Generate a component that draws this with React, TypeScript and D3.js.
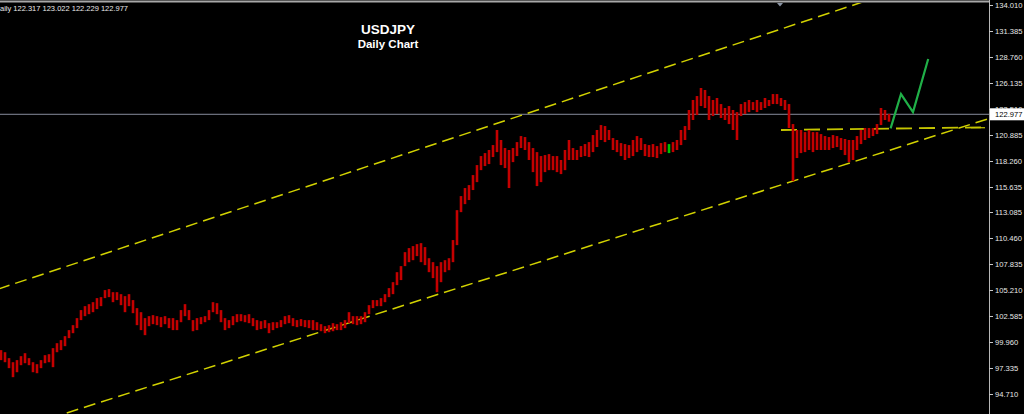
import React from "react";
import * as d3 from "d3";

const W = 1024;
const H = 414;

const highs = [
  99.17, 98.96, 98.36, 97.95, 98.16, 98.56, 98.86, 98.36, 97.95, 97.75,
  98.16, 98.66, 98.76, 99.37, 99.87, 100.18, 100.58, 101.19, 101.69, 102.4,
  103.21, 103.61, 103.81, 104.01, 104.42, 104.52, 105.23, 105.33, 105.02, 105.02,
  104.82, 104.62, 104.82, 104.22, 103.41, 103.0, 102.4, 102.6, 102.7, 102.6,
  102.5, 102.6, 102.4, 102.4, 102.2, 103.21, 103.81, 103.21, 102.2, 102.4,
  102.5, 102.6, 103.21, 104.01, 103.91, 103.21, 102.4, 102.2, 102.6, 102.8,
  102.8, 102.7, 102.8, 102.4, 102.2, 102.09, 102.2, 101.89, 101.99, 101.99,
  102.2, 102.6, 102.7, 102.4, 102.2, 102.3, 102.2, 102.2, 102.2, 101.99,
  101.79, 101.59, 101.69, 101.89, 101.79, 101.99, 102.2, 103.0, 102.6, 102.6,
  102.6, 103.0, 103.71, 104.22, 104.22, 104.42, 104.82, 105.43, 106.03, 107.04,
  107.65, 109.06, 109.47, 109.67, 109.87, 109.97, 109.57, 108.45, 108.05, 107.65,
  108.05, 108.25, 108.45, 110.28, 113.3, 114.72, 115.53, 115.83, 116.84, 117.85,
  118.76, 119.06, 119.37, 119.87, 121.39, 120.38, 119.57, 119.37, 119.57, 120.17,
  120.78, 120.68, 120.17, 119.57, 119.16, 118.76, 118.86, 118.96, 118.76, 118.76,
  118.36, 119.37, 120.38, 119.57, 119.37, 119.77, 119.97, 120.17, 120.88, 121.39,
  121.89, 121.79, 121.39, 120.58, 120.38, 120.07, 119.97, 119.87, 120.38, 120.78,
  120.58, 119.97, 119.87, 119.97, 119.77, 120.07, 120.17, 119.97, 120.17, 120.38,
  121.39, 121.79, 123.41, 124.42, 124.82, 125.63, 125.43, 124.82, 124.42, 124.62,
  124.01, 123.61, 123.81, 123.41, 123.2, 124.01, 124.21, 124.42, 124.21, 124.42,
  124.21, 124.62, 124.42, 125.02, 125.02, 124.62, 124.42, 124.01, 121.99, 121.39,
  121.39, 121.18, 121.39, 121.18, 121.18, 120.98, 120.78, 120.68, 120.88, 120.78,
  120.58, 120.48, 120.38, 120.38, 120.78, 121.39, 121.59, 121.59, 121.59, 121.99,
  123.61, 123.41, 123.02,
];

const lows = [
  98.16, 97.95, 97.35, 96.44, 96.94, 97.65, 97.85, 97.65, 96.94, 96.84,
  97.35, 97.85, 97.95, 97.45, 98.96, 99.17, 99.57, 100.38, 100.88, 101.39,
  102.2, 102.6, 102.8, 103.0, 103.31, 103.61, 104.42, 104.52, 104.01, 104.22,
  103.71, 103.0, 103.61, 102.9, 101.69, 101.19, 100.68, 101.59, 101.79, 101.69,
  101.49, 101.79, 101.39, 101.19, 101.19, 101.99, 102.6, 102.2, 101.08, 101.19,
  101.79, 101.99, 102.2, 103.0, 102.8, 101.99, 101.19, 101.39, 101.69, 101.99,
  102.09, 101.99, 101.89, 101.59, 101.19, 101.29, 101.39, 100.88, 101.19, 101.39,
  101.49, 101.79, 101.89, 101.59, 101.49, 101.59, 101.49, 101.39, 101.19, 101.19,
  101.08, 100.88, 100.98, 101.08, 101.19, 101.19, 101.39, 101.89, 101.79, 101.69,
  101.79, 101.99, 102.8, 103.41, 103.61, 103.61, 104.01, 104.52, 104.82, 105.73,
  106.24, 107.65, 108.05, 108.25, 108.66, 108.05, 107.75, 107.04, 106.44, 105.02,
  106.03, 107.04, 107.24, 108.05, 109.77, 113.1, 113.91, 114.32, 115.33, 116.13,
  117.34, 117.75, 117.95, 118.66, 119.16, 117.85, 117.55, 115.53, 118.15, 118.76,
  119.57, 119.37, 118.36, 117.14, 115.73, 116.13, 117.14, 117.34, 117.34, 117.14,
  116.94, 117.34, 118.36, 118.36, 118.36, 118.66, 118.76, 118.66, 119.16, 119.67,
  120.38, 120.17, 120.38, 119.37, 119.16, 118.76, 118.36, 118.56, 118.76, 119.16,
  119.37, 118.76, 118.66, 118.66, 118.56, 118.96, 119.16, 119.06, 119.16, 119.37,
  119.87, 120.38, 121.39, 122.4, 122.9, 123.81, 123.61, 122.4, 122.8, 123.0,
  122.6, 122.4, 121.99, 121.39, 120.38, 122.8, 123.0, 123.2, 123.41, 123.2,
  123.41, 123.61, 123.81, 124.01, 124.01, 123.81, 123.41, 121.59, 116.23, 118.56,
  119.06, 119.16, 119.37, 119.16, 119.37, 119.37, 119.37, 119.37, 119.57, 119.67,
  119.37, 118.86, 118.15, 118.36, 119.37, 119.97, 120.38, 120.58, 120.78, 120.98,
  121.89, 122.4, 122.23,
];

const greenBarIndex = 167;

const priceTicks = [
  134.01, 131.385, 128.76, 126.135, 123.51, 120.885, 118.26, 115.635, 113.085,
  110.46, 107.835, 105.21, 102.585, 99.96, 97.335, 94.71,
];

const lastPrice = 122.977;
const headerText = "aily  122.317 123.022 122.229 122.977";

// trend lines: [index, price]
const upperChannel: [number, number][] = [[0, 105.43], [200, 132.25]];
const lowerChannel: [number, number][] = [[0, 90.71], [247, 122.55]];
const supportLine: [number, number][] = [[195, 121.39], [246, 121.66]];
const supportStub: [number, number][] = [[242.5, 121.62], [246, 121.62]];
const projection: [number, number][] = [
  [222.4, 121.56],
  [225, 125.02],
  [228, 123.2],
  [231.8, 128.56],
];

export default function App() {
  const plotRight = 989;
  const x = d3.scaleLinear().domain([0, 247]).range([1, 989]);
  const y = d3.scaleLinear().domain([94.71, 134.01]).range([394.3, 5]);

  const extend = (pts: [number, number][], i0: number, i1: number) => {
    const [a, b] = pts;
    const s = (b[1] - a[1]) / (b[0] - a[0]);
    return [
      [x(i0), y(a[1] + s * (i0 - a[0]))],
      [x(i1), y(a[1] + s * (i1 - a[0]))],
    ];
  };

  const up = extend(upperChannel, -5, 260);
  const lo = extend(lowerChannel, -5, 260);
  const line = d3
    .line<[number, number]>()
    .x((d) => x(d[0]))
    .y((d) => y(d[1]));

  return (
    <svg
      width={W}
      height={H}
      style={{ position: "absolute", left: 0, top: 0, background: "#000" }}
    >
      <defs>
        <clipPath id="plot">
          <rect x={0} y={3} width={plotRight} height={H} />
        </clipPath>
      </defs>
      <rect x={0} y={0} width={W} height={H} fill="#000" />

      {/* frame */}
      <line x1={0} x2={plotRight} y1={1.5} y2={1.5} stroke="#a8a8a8" strokeWidth={2} />
      <line x1={plotRight + 0.5} x2={plotRight + 0.5} y1={0} y2={H} stroke="#b8b8b8" strokeWidth={1} />
      <path d="M777,3 L783,3 L780,6.5 Z" fill="#8a94a4" />

      <g clipPath="url(#plot)">
        {/* last price line */}
        <line x1={0} x2={plotRight} y1={y(lastPrice)} y2={y(lastPrice)} stroke="#868c9c" strokeWidth={1} />

        {/* channel lines */}
        <line x1={up[0][0]} y1={up[0][1]} x2={up[1][0]} y2={up[1][1]} stroke="#d2d200" strokeWidth={1.5} strokeDasharray="12,6" />
        <line x1={lo[0][0]} y1={lo[0][1]} x2={lo[1][0]} y2={lo[1][1]} stroke="#d2d200" strokeWidth={1.5} strokeDasharray="12,6" />
        <path d={line(supportLine) || ""} fill="none" stroke="#c4c400" strokeWidth={1.8} strokeDasharray="16,7" />
        <path d={line(supportStub) || ""} fill="none" stroke="#c4c400" strokeWidth={1.2} />

        {/* bars */}
        <g>
          {highs.map((h, i) => (
            <line
              key={i}
              x1={x(i)}
              x2={x(i)}
              y1={y(h)}
              y2={y(lows[i])}
              stroke={i === greenBarIndex ? "#00c000" : "#c40000"}
              strokeWidth={2.6}
            />
          ))}
        </g>

        {/* projection */}
        <path d={line(projection) || ""} fill="none" stroke="#20b048" strokeWidth={2.2} strokeLinejoin="miter" />
      </g>

      {/* title */}
      <text x={388} y={34} fill="#fff" fontFamily="Liberation Sans, Arial, sans-serif" fontWeight="bold" fontSize={13.5} textAnchor="middle">
        USDJPY
      </text>
      <text x={388} y={48} fill="#fff" fontFamily="Liberation Sans, Arial, sans-serif" fontWeight="bold" fontSize={11.5} textAnchor="middle">
        Daily Chart
      </text>

      {/* header */}
      <text x={0} y={11} fill="#e8e8e8" fontFamily="Liberation Sans, Arial, sans-serif" fontSize={7.5}>
        {headerText}
      </text>

      {/* axis */}
      {priceTicks.map((p) => (
        <g key={p}>
          <line x1={plotRight} x2={plotRight + 4} y1={Math.round(y(p)) + 0.5} y2={Math.round(y(p)) + 0.5} stroke="#c8c8c8" />
          <text x={995} y={y(p) + 2.8} fill="#e8e8e8" fontFamily="Liberation Sans, Arial, sans-serif" fontSize={7.6}>
            {p.toFixed(3)}
          </text>
        </g>
      ))}
      <rect x={990} y={y(lastPrice) - 6} width={34} height={12} fill="#fff" />
      <text x={995} y={y(lastPrice) + 2.8} fill="#000" fontFamily="Liberation Sans, Arial, sans-serif" fontSize={7.6}>
        {lastPrice.toFixed(3)}
      </text>
    </svg>
  );
}
